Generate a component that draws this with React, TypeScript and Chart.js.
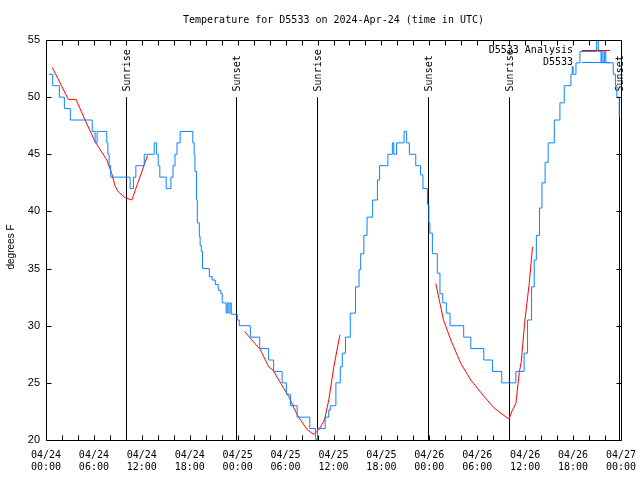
import React, { useEffect, useRef } from "react";
import { Chart, registerables } from "chart.js";

Chart.register(...registerables);

const TITLE = "Temperature for D5533 on 2024-Apr-24 (time in UTC)";
const Y_LABEL = "degrees F";
const OBS_LABEL = "D5533";
const ANA_LABEL = "D5533 Analysis";

const xTickDates = ["04/24", "04/24", "04/24", "04/24", "04/25", "04/25", "04/25", "04/25", "04/26", "04/26", "04/26", "04/26", "04/27"];
const xTickTimes = ["00:00", "06:00", "12:00", "18:00", "00:00", "06:00", "12:00", "18:00", "00:00", "06:00", "12:00", "18:00", "00:00"];

// hours since 04/24 00:00 UTC
const sunriseHours = [10.0, 33.92, 57.99];
const sunsetHours = [23.76, 47.83, 71.8];

// observations (step levels, hours since 04/24 00:00)
const obsHours = [
  0.34, 0.84, 1.67, 2.3, 3.05, 5.79, 6.15, 6.4, 7.61, 7.75, 7.9, 8.1, 10.53, 10.95, 11.25, 12.3,
  13.55, 13.85, 14.05, 14.25, 15.05, 15.64, 15.9, 16.15, 16.4, 16.8, 18.38, 18.55, 18.65, 18.85,
  18.95, 19.2, 19.3, 19.45, 19.6, 20.45, 20.8, 21.2, 21.57, 21.9, 22.07, 22.55, 22.7, 22.9, 23.05,
  23.2, 23.95, 24.2, 25.59, 26.76, 27.88, 28.5, 29.57, 30.1, 30.6, 31.45, 33.03, 33.74, 33.8, 34.0,
  34.96, 35.4, 35.6, 36.3, 36.85, 37.1, 37.5, 38.1, 38.76, 39.2, 39.4, 39.8, 40.2, 40.9, 41.5,
  41.77, 42.81, 43.37, 43.55, 43.9, 44.84, 45.16, 45.5, 46.3, 46.9, 47.2, 47.76, 47.95, 48.07,
  48.38, 49.0, 49.33, 49.68, 50.13, 50.59, 52.3, 53.19, 54.82, 55.9, 57.07, 58.84, 59.87, 60.3,
  60.8, 61.13, 61.4, 61.8, 62.1, 62.5, 62.88, 63.65, 64.35, 64.89, 65.73, 65.9, 66.0, 66.36, 66.86,
  68.95, 69.15, 69.5, 69.6, 69.75, 69.95, 70.1, 71.03, 71.3, 71.48, 71.78, 71.85,
];
const obsTemps = [
  52, 51, 50, 49, 48, 47, 46, 47, 46, 45, 44, 43, 42, 43, 44, 45,
  46, 45, 44, 43, 42, 43, 44, 45, 46, 47, 46, 45, 43.5, 41,
  39, 37.8, 37, 36.5, 35, 34.3, 34, 33.6, 33.1, 32.8, 32, 31.1, 32, 31.1, 32,
  31, 30.5, 30, 29, 28, 27, 26, 25, 24, 23, 22, 21, 20.2, 20, 21,
  22, 22.6, 23, 25, 26.4, 27.6, 29, 31.1, 33.4, 34.9, 36.3, 37.9, 39.5, 41, 42.75,
  44, 45, 46, 45, 46, 47, 46, 45, 44, 43.2, 42, 40.6, 39, 38.1,
  36.3, 34.6, 32.8, 32, 31.1, 30, 29, 28, 27, 26, 25, 26, 27.6, 30.5,
  33.4, 35.75, 37.9, 40.3, 42.5, 44.3, 46, 48, 49.5, 51, 52, 52.7, 52, 53, 54,
  55.5, 54, 53, 54, 53, 54, 53, 52, 51, 50, 48.3, 48.3,
];

// analysis (null = gap between runs)
const anaHours = [
  0.79, 2.8, 3.76, 4.89, 6.15, 7.61, 8.24, 8.66, 9.07, 9.91, 10.75, 12.71,
  18.0,
  24.88, 25.59, 26.84, 27.89, 28.43, 28.94, 30.4, 31.45, 32.7, 33.54, 34.16, 34.87, 35.41, 36.04, 36.8,
  42.0,
  48.81, 49.77, 50.69, 51.94, 53.19, 54.87, 56.12, 57.8, 58.0, 58.4, 58.84, 59.26, 59.5, 59.97, 60.51, 60.92,
];
const anaTemps = [
  52.6, 49.8, 49.8, 48.0, 46.1, 44.5, 43.3, 42.2, 41.7, 41.2, 41.0, 44.9,
  null,
  29.5, 28.9, 27.9, 26.4, 26.1, 25.5, 23.8, 22.2, 20.9, 20.5, 20.9, 21.75, 23.5, 26.4, 29.2,
  null,
  33.7, 30.5, 28.75, 26.7, 25.25, 23.8, 22.8, 21.9, 21.9, 22.6, 23.2, 25.9, 26.8, 30.5, 33.7, 36.9,
];

const OBS_COLOR = "#0a84ff";
const ANA_COLOR = "#ff0000";
const MONO = "'DejaVu Sans Mono', monospace";
const SANS = "'Liberation Sans', Arial, sans-serif";

const overlay = {
  id: "gnuplotOverlay",
  beforeDatasetsDraw(chart: any) {
    const ctx = chart.ctx;
    const xs = chart.scales.x;
    const ys = chart.scales.y;
    const yBottom = ys.getPixelForValue(20);
    const yTop = ys.getPixelForValue(50);
    const yText = ys.getPixelForValue(50.5);
    ctx.save();
    ctx.strokeStyle = "#000";
    ctx.lineWidth = 1;
    ctx.fillStyle = "#000";
    ctx.font = `10px ${MONO}`;
    const drawSun = (t: number, label: string) => {
      const x = Math.round(xs.getPixelForValue(t)) + 0.5;
      ctx.beginPath();
      ctx.moveTo(x, yBottom);
      ctx.lineTo(x, yTop);
      ctx.stroke();
      ctx.save();
      ctx.translate(x + 1, yText);
      ctx.rotate(-Math.PI / 2);
      ctx.textAlign = "left";
      ctx.textBaseline = "middle";
      ctx.fillText(label, 0, 0);
      ctx.restore();
    };
    sunriseHours.forEach((t) => drawSun(t, "Sunrise"));
    sunsetHours.forEach((t) => drawSun(t, "Sunset"));
    ctx.restore();
  },
  afterDatasetsDraw(chart: any) {
    const ctx = chart.ctx;
    const xs = chart.scales.x;
    const ys = chart.scales.y;
    const { left, right, top, bottom } = chart.chartArea;
    const L = Math.round(left) + 0.5;
    const R = Math.round(right) + 0.5;
    const T = Math.round(top) + 0.5;
    const B = Math.round(bottom) + 0.5;
    ctx.save();
    ctx.strokeStyle = "#000";
    ctx.lineWidth = 1;
    ctx.beginPath();
    ctx.rect(L, T, R - L, B - T);
    ctx.stroke();
    // inward ticks
    ctx.beginPath();
    for (let h = 0; h <= 72; h += 2) {
      const x = Math.round(xs.getPixelForValue(h)) + 0.5;
      ctx.moveTo(x, B);
      ctx.lineTo(x, B - 5);
      ctx.moveTo(x, T);
      ctx.lineTo(x, T + 5);
    }
    for (let v = 20; v <= 55; v += 5) {
      const y = Math.round(ys.getPixelForValue(v)) + 0.5;
      ctx.moveTo(L, y);
      ctx.lineTo(L + 5, y);
      ctx.moveTo(R, y);
      ctx.lineTo(R - 5, y);
    }
    ctx.stroke();

    // legend (gnuplot style: text then sample line)
    const entries = [
      { label: chart.data.datasets[0].label, color: chart.data.datasets[0].borderColor },
      { label: chart.data.datasets[1].label, color: chart.data.datasets[1].borderColor },
    ];
    ctx.font = `10px ${MONO}`;
    ctx.textAlign = "right";
    ctx.textBaseline = "middle";
    entries.forEach((e, i) => {
      const y = Math.round(top + 10 + i * 12) + 0.5;
      ctx.fillStyle = "#000";
      ctx.fillText(e.label, right - 48, y);
      ctx.strokeStyle = e.color;
      ctx.beginPath();
      ctx.moveTo(right - 39, y);
      ctx.lineTo(right - 11, y);
      ctx.stroke();
    });

    // y axis title
    ctx.fillStyle = "#000";
    ctx.font = `10px ${SANS}`;
    ctx.save();
    ctx.translate(11, (top + bottom) / 2 + 7);
    ctx.rotate(-Math.PI / 2);
    ctx.textAlign = "center";
    ctx.textBaseline = "middle";
    ctx.fillText(Y_LABEL, 0, 0);
    ctx.restore();
    ctx.restore();
  },
};

export default function App() {
  const ref = useRef<HTMLCanvasElement | null>(null);
  useEffect(() => {
    if (!ref.current) return;
    const obsData = obsHours.map((h, i) => ({ x: h, y: obsTemps[i] }));
    const anaData = anaHours.map((h, i) => ({ x: h, y: anaTemps[i] }));
    const chart = new Chart(ref.current, {
      type: "line",
      data: {
        datasets: [
          {
            label: ANA_LABEL,
            data: anaData as any,
            borderColor: ANA_COLOR,
            borderWidth: 1,
            pointRadius: 0,
            fill: false,
            tension: 0,
            spanGaps: false,
            clip: 0,
            order: 1,
          },
          {
            label: OBS_LABEL,
            data: obsData as any,
            borderColor: OBS_COLOR,
            borderWidth: 1,
            pointRadius: 0,
            fill: false,
            stepped: true,
            tension: 0,
            clip: 0,
            order: 0,
          },
        ],
      },
      options: {
        responsive: false,
        animation: false,
        devicePixelRatio: 1,
        layout: { padding: { left: 0, right: 19, top: 0, bottom: 0 } },
        plugins: {
          legend: { display: false },
          tooltip: { enabled: false },
          title: {
            display: true,
            text: TITLE,
            fullSize: false,
            color: "#000",
            padding: { top: 14, bottom: 14 },
            font: { family: MONO, size: 10, weight: "normal", lineHeight: 1.2 },
          },
        },
        scales: {
          x: {
            type: "linear",
            min: 0,
            max: 72,
            grid: { display: false, drawTicks: false },
            border: { display: false },
            ticks: {
              stepSize: 6,
              autoSkip: false,
              maxRotation: 0,
              minRotation: 0,
              padding: 9,
              color: "#000",
              font: { family: MONO, size: 10, lineHeight: 1.2 },
              callback: (v: any) => {
                const i = Math.round(Number(v) / 6);
                return [xTickDates[i], xTickTimes[i]];
              },
            },
            afterFit: (s: any) => {
              s.height = 40;
              s.paddingLeft = 0;
              s.paddingRight = 0;
            },
          },
          y: {
            type: "linear",
            min: 20,
            max: 55,
            grid: { display: false, drawTicks: false },
            border: { display: false },
            ticks: {
              stepSize: 5,
              padding: 6,
              color: "#000",
              font: { family: SANS, size: 11 },
            },
            afterFit: (s: any) => {
              s.width = 46;
              s.paddingTop = 0;
              s.paddingBottom = 0;
            },
          },
        },
      } as any,
      plugins: [overlay],
    });
    return () => chart.destroy();
  }, []);
  return (
    <div style={{ position: "fixed", left: 0, top: 0, width: 640, height: 480, background: "#fff" }}>
      <canvas ref={ref} width={640} height={480} style={{ width: 640, height: 480, display: "block" }} />
    </div>
  );
}
